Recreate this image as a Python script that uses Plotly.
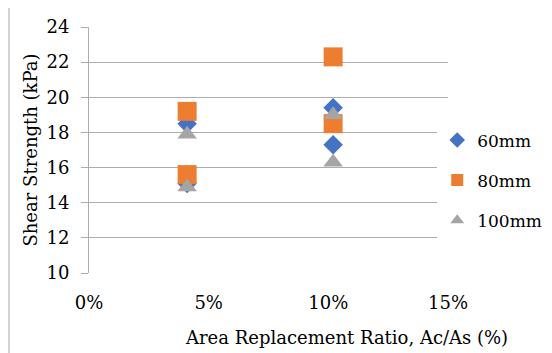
import plotly.graph_objects as go

x_ratio = [0.041, 0.041, 0.102, 0.102]
s60 = [18.5, 15.1, 19.4, 17.3]
s80 = [19.2, 15.6, 22.3, 18.5]
s100 = [17.9, 14.9, 19.0, 16.3]
series_names = ["60mm", "80mm", "100mm"]
colors = ["#4472C4", "#ED7D31", "#A5A5A5"]
symbols = ["diamond", "square", "triangle-up"]
sizes = [15, 19, 17]
x_title = "Area Replacement Ratio, Ac/As (%)"
y_title = "Shear Strength (kPa)"

SERIF = "DejaVu Serif"
FS = 18

fig = go.Figure()
for i, (name, vals) in enumerate(zip(series_names, [s60, s80, s100])):
    fig.add_trace(go.Scatter(
        x=x_ratio, y=vals, mode="markers", name=name,
        legendgroup=name,
        marker=dict(symbol=symbols[i], color=colors[i], size=sizes[i], line=dict(width=0)),
    ))

fig.update_layout(
    width=552, height=353,
    margin=dict(l=81, r=112, t=19, b=88, autoexpand=False),
    paper_bgcolor="white", plot_bgcolor="white",
    font=dict(family=SERIF, size=FS, color="#000000"),
    showlegend=True,
    legend=dict(x=0.97, y=0.612, xanchor="left", yanchor="top",
                traceorder="grouped", tracegroupgap=15,
                font=dict(family=SERIF, size=17, color="#000000"),
                itemsizing="constant"),
    xaxis=dict(range=[0, 0.15], dtick=0.05, tick0=0, tickformat=".0%",
               showgrid=False, zeroline=False, showline=False,
               tickfont=dict(family=SERIF, size=FS, color="#000000"),
               ticklabelstandoff=17, automargin=False),
    yaxis=dict(range=[10, 24], dtick=2, showgrid=True, gridcolor="#ADADAD", gridwidth=1,
               zeroline=False, showline=True, linecolor="#ADADAD", linewidth=1,
               ticks="outside", ticklen=7, tickcolor="#ADADAD",
               tickfont=dict(family=SERIF, size=FS, color="#000000"),
               ticklabelstandoff=8, automargin=False,
               title=dict(text=y_title, standoff=4,
                          font=dict(family=SERIF, size=FS, color="#000000"))),
)

fig.add_annotation(text=x_title, xref="paper", yref="paper", x=0.716, y=-0.264,
                   xanchor="center", yanchor="middle", showarrow=False,
                   font=dict(family=SERIF, size=FS, color="#000000"))

fig.add_shape(type="rect", xref="paper", yref="paper",
              x0=-0.2228, x1=1.35, y0=-0.4, y1=1.084,
              line=dict(color="#A6A6A6", width=1), fillcolor="rgba(0,0,0,0)", layer="below")

fig.write_html("out.html")
